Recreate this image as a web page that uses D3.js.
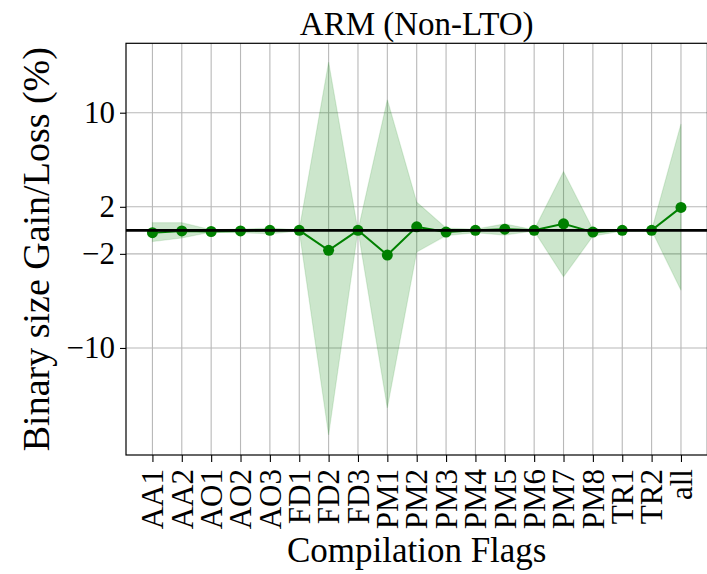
<!DOCTYPE html>
<html>
<head>
<meta charset="utf-8">
<script src="https://cdn.jsdelivr.net/npm/d3@7"></script>
<style>
  html, body { margin: 0; padding: 0; background: #fff; }
  svg { display: block; }
  text { font-family: "Liberation Serif", "DejaVu Serif", serif; fill: #000; }
</style>
</head>
<body>
<svg id="chart" width="707" height="574"></svg>
<script>
// Compilation flag groups along the x axis
const flags = ["AA1", "AA2", "AO1", "AO2", "AO3", "FD1", "FD2", "FD3", "PM1",
               "PM2", "PM3", "PM4", "PM5", "PM6", "PM7", "PM8", "TR1", "TR2", "all"];
// Mean binary size change per flag (%)
const meanChange = [-0.2, -0.05, -0.1, -0.05, 0.0, 0.0, -1.7, 0.0, -2.1,
                    0.3, -0.15, 0.0, 0.1, 0.0, 0.55, -0.15, 0.0, 0.0, 1.95];
// Upper and lower extent of the change across benchmarks (%)
const upperChange = [0.65, 0.65, 0.05, 0.1, 0.2, 0.05, 14.3, 0.0, 11.1,
                     2.4, 0.2, 0.1, 0.55, 0.05, 5.0, 0.1, 0.05, 0.0, 9.05];
const lowerChange = [-0.95, -0.65, -0.15, -0.2, -0.3, -0.05, -17.4, 0.0, -15.1,
                     -1.85, -0.45, -0.2, -0.4, -0.05, -3.95, -0.5, -0.05, 0.0, -5.1];
const yTicks = [10, 2, -2, -10];

const svg = d3.select("#chart");
const plotLeft = 126, plotRight = 707.4, plotTop = 43.3, plotBottom = 455;

const x = d3.scalePoint().domain(flags).range([plotLeft, plotRight]).padding(0.9);
const y = d3.scaleLinear().domain([-19.1, 15.9]).range([plotBottom, plotTop]);

const rows = flags.map((f, i) => ({ f, m: meanChange[i], hi: upperChange[i], lo: lowerChange[i] }));

// Grid
const grid = svg.append("g").attr("stroke", "#b8b8b8").attr("stroke-width", 1.1);
grid.selectAll("line.v").data(flags).join("line")
  .attr("x1", d => x(d)).attr("x2", d => x(d))
  .attr("y1", plotTop).attr("y2", plotBottom);
grid.selectAll("line.h").data(yTicks).join("line")
  .attr("x1", plotLeft).attr("x2", plotRight)
  .attr("y1", d => y(d)).attr("y2", d => y(d));

// Spread band
svg.append("path")
  .datum(rows)
  .attr("d", d3.area().x(d => x(d.f)).y0(d => y(d.lo)).y1(d => y(d.hi)))
  .attr("fill", "green").attr("fill-opacity", 0.2)
  .attr("stroke", "green").attr("stroke-opacity", 0.12).attr("stroke-width", 1.2);

// Mean line and markers
svg.append("path")
  .datum(rows)
  .attr("d", d3.line().x(d => x(d.f)).y(d => y(d.m)))
  .attr("fill", "none").attr("stroke", "green").attr("stroke-width", 2);
svg.selectAll("circle.pt").data(rows).join("circle")
  .attr("cx", d => x(d.f)).attr("cy", d => y(d.m)).attr("r", 5.5)
  .attr("fill", "green");

// Zero reference line
svg.append("line")
  .attr("x1", plotLeft).attr("x2", plotRight)
  .attr("y1", y(0)).attr("y2", y(0))
  .attr("stroke", "#000").attr("stroke-width", 2.8);

// Axes
const yAxis = svg.append("g").attr("transform", `translate(${plotLeft},0)`)
  .call(d3.axisLeft(y).tickValues(yTicks).tickSize(6).tickPadding(5)
    .tickFormat(d => d < 0 ? "\u2212" + Math.abs(d) : String(d)));
yAxis.select(".domain").remove();
yAxis.selectAll("text").attr("font-size", 31).attr("font-family", "Liberation Serif, serif");
yAxis.selectAll("line").attr("stroke", "#000").attr("stroke-width", 1.1);

const xAxis = svg.append("g").attr("transform", `translate(0,${plotBottom})`)
  .call(d3.axisBottom(x).tickSize(7).tickPadding(0));
xAxis.select(".domain").remove();
xAxis.selectAll("line").attr("stroke", "#000").attr("stroke-width", 1.1);
xAxis.selectAll("text")
  .attr("font-size", 31).attr("font-family", "Liberation Serif, serif")
  .attr("text-anchor", "end")
  .attr("x", 0).attr("y", 0).attr("dy", "0.33em")
  .attr("transform", "translate(0,14) rotate(-90)");

// Frame
svg.append("rect")
  .attr("x", plotLeft).attr("y", plotTop)
  .attr("width", plotRight - plotLeft).attr("height", plotBottom - plotTop)
  .attr("fill", "none").attr("stroke", "#000").attr("stroke-width", 1.2);

// Titles
svg.append("text").attr("x", (plotLeft + plotRight) / 2).attr("y", 35)
  .attr("text-anchor", "middle").attr("font-size", 33).text("ARM (Non-LTO)");
svg.append("text").attr("x", (plotLeft + plotRight) / 2).attr("y", 562)
  .attr("text-anchor", "middle").attr("font-size", 35).text("Compilation Flags");
svg.append("text")
  .attr("transform", `translate(49,${(plotTop + plotBottom) / 2}) rotate(-90)`)
  .attr("text-anchor", "middle").attr("font-size", 38).text("Binary size Gain/Loss (%)");
</script>
</body>
</html>
